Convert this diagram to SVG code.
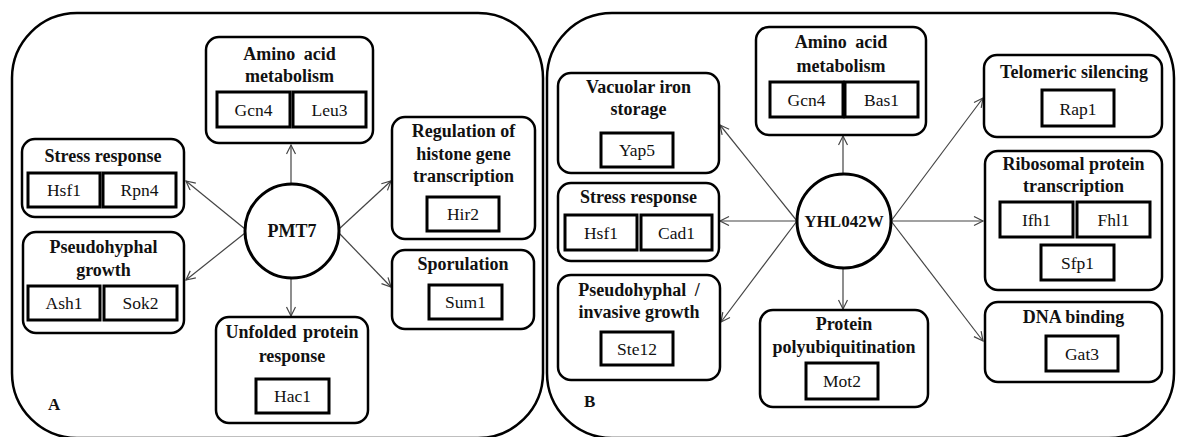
<svg xmlns="http://www.w3.org/2000/svg" width="1178" height="437" viewBox="0 0 1178 437">
  <style>
    .panel { fill: none; stroke: #000; stroke-width: 2.5; }
    .box { fill: #fff; stroke: #000; stroke-width: 2.5; }
    .gene { fill: #fff; stroke: #000; stroke-width: 3; }
    .hub { fill: #fff; stroke: #000; stroke-width: 3; }
    text { font-family: 'Liberation Serif', 'Times New Roman', 'DejaVu Serif', serif; fill: #111; }
    .title { font-weight: bold; font-size: 18px; text-anchor: middle; }
    .label { font-size: 17.5px; text-anchor: middle; }
    .hubtext { font-weight: bold; font-size: 18px; text-anchor: middle; }
    .tag { font-weight: bold; font-size: 17px; }
    .edge { stroke: #444; stroke-width: 1.2; fill: none; marker-end: url(#arrow); }
  </style>
  <defs>
    <marker id="arrow" markerUnits="userSpaceOnUse" markerWidth="12" markerHeight="12" refX="10" refY="5" orient="auto">
      <path d="M1,0.5 L10,5 L1,9.5" fill="none" stroke="#444" stroke-width="1.2"/>
    </marker>
  </defs>
  <rect width="1178" height="437" fill="#fff"/>

  <!-- panel frames -->
  <rect class="panel" x="12" y="13" width="531" height="425" rx="65"/>
  <rect class="panel" x="547" y="13" width="627" height="425" rx="65"/>
  <text class="tag" x="48" y="410">A</text>
  <text class="tag" x="584" y="407">B</text>

  <!-- connectors -->
  <g id="connectors">
    <line class="edge" x1="291" y1="184" x2="291" y2="145"/>
    <line class="edge" x1="245" y1="229" x2="186" y2="181"/>
    <line class="edge" x1="245" y1="233" x2="186" y2="280"/>
    <line class="edge" x1="339" y1="229" x2="391" y2="181"/>
    <line class="edge" x1="339" y1="233" x2="391" y2="287"/>
    <line class="edge" x1="291" y1="278" x2="291" y2="316"/>

    <line class="edge" x1="843" y1="174" x2="843" y2="136"/>
    <line class="edge" x1="797" y1="221" x2="720" y2="125"/>
    <line class="edge" x1="797" y1="221" x2="720" y2="221"/>
    <line class="edge" x1="797" y1="221" x2="721" y2="322"/>
    <line class="edge" x1="891" y1="221" x2="983" y2="98"/>
    <line class="edge" x1="891" y1="221" x2="983" y2="221"/>
    <line class="edge" x1="891" y1="221" x2="983" y2="341"/>
    <line class="edge" x1="843" y1="268" x2="843" y2="309"/>
  </g>

  <!-- Panel A -->
  <g id="pmt7">
    <circle class="hub" cx="292" cy="231" r="47"/>
    <text class="hubtext" x="292" y="237">PMT7</text>
  </g>
  <g id="a-amino">
    <rect class="box" x="206" y="37" width="167" height="106" rx="13"/>
    <text class="title" x="289.5" y="60" word-spacing="4">Amino acid</text>
    <text class="title" x="289.5" y="82">metabolism</text>
    <rect class="gene" x="217" y="92" width="73" height="35"/>
    <text class="label" x="253.5" y="116">Gcn4</text>
    <rect class="gene" x="293" y="92" width="73" height="35"/>
    <text class="label" x="329.5" y="116">Leu3</text>
  </g>
  <g id="a-stress">
    <rect class="box" x="22" y="139" width="162" height="78" rx="13"/>
    <text class="title" x="103" y="162">Stress response</text>
    <rect class="gene" x="28" y="173" width="72" height="34"/>
    <text class="label" x="64" y="196">Hsf1</text>
    <rect class="gene" x="103" y="173" width="73" height="34"/>
    <text class="label" x="139.5" y="196">Rpn4</text>
  </g>
  <g id="a-pseudohyphal">
    <rect class="box" x="23" y="232" width="161" height="101" rx="13"/>
    <text class="title" x="103.5" y="253">Pseudohyphal</text>
    <text class="title" x="103.5" y="276">growth</text>
    <rect class="gene" x="28" y="286" width="72" height="34"/>
    <text class="label" x="64" y="309">Ash1</text>
    <rect class="gene" x="104" y="286" width="73" height="34"/>
    <text class="label" x="140.5" y="309">Sok2</text>
  </g>
  <g id="a-histone">
    <rect class="box" x="392" y="117" width="143" height="122" rx="13"/>
    <text class="title" x="463.5" y="137">Regulation of</text>
    <text class="title" x="463.5" y="160">histone gene</text>
    <text class="title" x="463.5" y="182">transcription</text>
    <rect class="gene" x="427" y="197" width="72" height="34"/>
    <text class="label" x="463" y="220">Hir2</text>
  </g>
  <g id="a-sporulation">
    <rect class="box" x="392" y="250" width="142" height="79" rx="13"/>
    <text class="title" x="463" y="270">Sporulation</text>
    <rect class="gene" x="429" y="285" width="73" height="34"/>
    <text class="label" x="465.5" y="308">Sum1</text>
  </g>
  <g id="a-unfolded">
    <rect class="box" x="216" y="317" width="152" height="106" rx="13"/>
    <text class="title" x="292" y="338" word-spacing="2">Unfolded protein</text>
    <text class="title" x="292" y="362">response</text>
    <rect class="gene" x="256" y="379" width="73" height="34"/>
    <text class="label" x="292.5" y="402">Hac1</text>
  </g>

  <!-- Panel B -->
  <g id="yhl042w">
    <circle class="hub" cx="844" cy="221" r="47"/>
    <text class="hubtext" x="844" y="227" style="font-size:17px">YHL042W</text>
  </g>
  <g id="b-vacuolar">
    <rect class="box" x="558" y="73" width="161" height="100" rx="13"/>
    <text class="title" x="638.5" y="93">Vacuolar iron</text>
    <text class="title" x="638.5" y="115">storage</text>
    <rect class="gene" x="601" y="133" width="72" height="34"/>
    <text class="label" x="637" y="156">Yap5</text>
  </g>
  <g id="b-stress">
    <rect class="box" x="558" y="183" width="161" height="78" rx="13"/>
    <text class="title" x="638.5" y="203">Stress response</text>
    <rect class="gene" x="565" y="215" width="72" height="35"/>
    <text class="label" x="601" y="239">Hsf1</text>
    <rect class="gene" x="641" y="215" width="71" height="35"/>
    <text class="label" x="676.5" y="239">Cad1</text>
  </g>
  <g id="b-pseudohyphal">
    <rect class="box" x="558" y="275" width="162" height="105" rx="13"/>
    <text class="title" x="639" y="296" word-spacing="4">Pseudohyphal /</text>
    <text class="title" x="639" y="318">invasive growth</text>
    <rect class="gene" x="601" y="332" width="72" height="33"/>
    <text class="label" x="637" y="355">Ste12</text>
  </g>
  <g id="b-amino">
    <rect class="box" x="756" y="27" width="170" height="108" rx="13"/>
    <text class="title" x="841" y="48" word-spacing="4">Amino acid</text>
    <text class="title" x="841" y="72">metabolism</text>
    <rect class="gene" x="770" y="82" width="73" height="35"/>
    <text class="label" x="806.5" y="106">Gcn4</text>
    <rect class="gene" x="845" y="82" width="73" height="35"/>
    <text class="label" x="881.5" y="106">Bas1</text>
  </g>
  <g id="b-protein">
    <rect class="box" x="760" y="310" width="168" height="97" rx="13"/>
    <text class="title" x="844" y="330">Protein</text>
    <text class="title" x="844" y="353">polyubiquitination</text>
    <rect class="gene" x="806" y="363" width="72" height="36"/>
    <text class="label" x="842" y="387">Mot2</text>
  </g>
  <g id="b-telomeric">
    <rect class="box" x="984" y="55" width="178" height="82" rx="13"/>
    <text class="title" x="1074" y="78">Telomeric silencing</text>
    <rect class="gene" x="1042" y="90" width="72" height="36"/>
    <text class="label" x="1078" y="115">Rap1</text>
  </g>
  <g id="b-ribosomal">
    <rect class="box" x="985" y="151" width="177" height="139" rx="13"/>
    <text class="title" x="1073.5" y="170">Ribosomal protein</text>
    <text class="title" x="1073.5" y="192">transcription</text>
    <rect class="gene" x="1000" y="202" width="73" height="35"/>
    <text class="label" x="1036.5" y="226">Ifh1</text>
    <rect class="gene" x="1077" y="202" width="73" height="35"/>
    <text class="label" x="1113.5" y="226">Fhl1</text>
    <rect class="gene" x="1041" y="245" width="73" height="35"/>
    <text class="label" x="1077.5" y="269">Sfp1</text>
  </g>
  <g id="b-dna">
    <rect class="box" x="985" y="302" width="177" height="80" rx="13"/>
    <text class="title" x="1073.5" y="323">DNA binding</text>
    <rect class="gene" x="1046" y="336" width="72" height="35"/>
    <text class="label" x="1082" y="360">Gat3</text>
  </g>
</svg>
